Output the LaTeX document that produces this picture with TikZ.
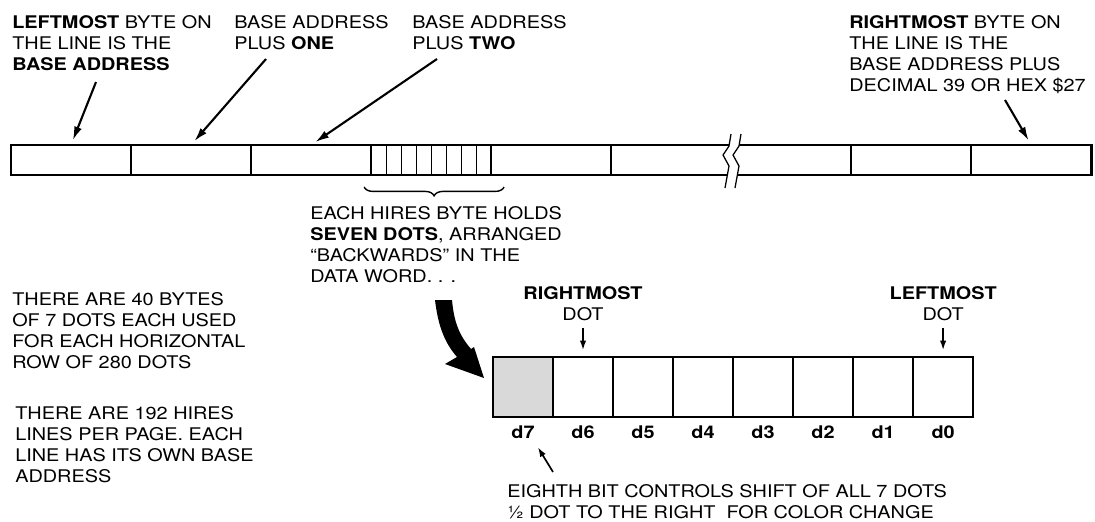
\documentclass[tikz,border=0pt]{standalone}
\usepackage{fontspec}
\setmainfont{TeX Gyre Heros}[FakeStretch=1.14]
\usepackage{tikz}
\usetikzlibrary{arrows.meta, positioning, calc, decorations.pathreplacing}
\tikzset{
  note/.style={align=left, inner sep=0pt, anchor=north west,
               font=\fontsize{12.4}{14.9}\selectfont},
  dotnote/.style={note, align=center, anchor=south},
  bytecell/.style={draw, line width=1.7pt, minimum width=3cm, minimum height=0.75cm,
                   inner sep=0pt, outer sep=0pt},
  bitcell/.style={draw, line width=1.5pt, minimum width=1.5cm, minimum height=1.5cm,
                  inner sep=0pt, outer sep=0pt},
  bitlabel/.style={font=\fontsize{12.4}{14.9}\selectfont\bfseries, inner sep=0pt,
                   label distance=0.22cm},
  pointer/.style={-{Latex[length=0.34cm, width=0.2cm]}, line width=1.5pt, shorten >=0.13cm},
  dotpointer/.style={-{Latex[length=0.24cm, width=0.16cm]}, line width=1.2pt}
}

\begin{document}
\begin{tikzpicture}[x=0.025cm, y=-0.025cm]
\useasboundingbox (0,0) rectangle (1095,521);

% Line of 40 bytes
\node[bytecell] (byte0) at (71,160) {};
\foreach \i [remember=\i as \p (initially 0)] in {1,...,8}
  \node[bytecell, right=0pt of byte\p] (byte\i) {};
\draw[line width=2.1pt] (byte0.north west) rectangle (byte8.south east);
\foreach \k in {1,...,7}
  \draw[line width=0.8pt] ($(byte3.north west)+(15*\k,0)$) -- ($(byte3.south west)+(15*\k,0)$);

% Break in the line
\fill[white] (731,134) -- (729,146) -- (723,155) -- (729,166) -- (725,188)
  -- (735,188) -- (739,166) -- (733,155) -- (739,146) -- (741,134) -- cycle;
\draw[line width=0.9pt] (731,134) -- (729,146) -- (723,155) -- (729,166) -- (725,188);
\draw[line width=0.9pt] (741,134) -- (739,146) -- (733,155) -- (739,166) -- (735,188);

% Brace under the hires byte
\draw[decorate, decoration={brace, mirror, amplitude=0.22cm}, line width=1pt]
  ($(byte3.south west)+(-7,12)$) -- ($(byte3.south east)+(13,12)$);

% Top notes
\node[note] (leftnote) at (12,15) {\textbf{LEFTMOST} BYTE ON\\THE LINE IS THE\\\textbf{BASE ADDRESS}};
\node[note] (onenote) at (234,15) {BASE ADDRESS\\PLUS \textbf{ONE}};
\node[note] (twonote) at (412,15) {BASE ADDRESS\\PLUS \textbf{TWO}};
\node[note] (rightnote) at (849,15) {\textbf{RIGHTMOST} BYTE ON\\THE LINE IS THE\\BASE ADDRESS PLUS\\DECIMAL 39 OR HEX \$27};

\coordinate (leftfoot) at (96,82);
\coordinate (onefoot) at (266,59);
\coordinate (twofoot) at (437,59);
\coordinate (rightfoot) at (1005,100);
\draw[pointer] (leftfoot) -- (byte0.north);
\draw[pointer] (onefoot) -- (byte1.north);
\draw[pointer] (twofoot) -- (byte2.north);
\draw[pointer] (rightfoot) -- (byte8.north);

% Notes below the line
\node[note] (dotsnote) at (310,206) {EACH HIRES BYTE HOLDS\\\textbf{SEVEN DOTS}, ARRANGED\\“BACKWARDS” IN THE\\DATA WORD. . .};
\node[note] (rownote) at (12,292) {THERE ARE 40 BYTES\\OF 7 DOTS EACH USED\\FOR EACH HORIZONTAL\\ROW OF 280 DOTS};
\node[note] (pagenote) at (15,406) {THERE ARE 192 HIRES\\LINES PER PAGE. EACH\\LINE HAS ITS OWN BASE\\ADDRESS};

% Fat arrow down to the data word
\fill (435,300) .. controls (438,325) and (444,342) .. (457,357) -- (445,364) -- (484,378)
  -- (474,347) -- (471,349) .. controls (459,335) and (454,322) .. (452,300) -- cycle;

% Data word d7..d0
\node[bitcell, fill=gray!30, label={[bitlabel, name=lab7]below:d7}] (bit7) at (523,387) {};
\foreach \d [remember=\d as \p (initially 7)] in {6,...,0}
  \node[bitcell, right=0pt of bit\p, label={[bitlabel]below:d\d}] (bit\d) {};
\draw[line width=1.7pt] (bit7.north west) rectangle (bit0.south east);

\node[dotnote, above=0.9cm of bit6] (rightdot) {\textbf{RIGHTMOST}\\DOT};
\node[dotnote, above=0.9cm of bit0] (leftdot) {\textbf{LEFTMOST}\\DOT};
\draw[dotpointer, shorten <=0.17cm, shorten >=0.17cm] (rightdot.south) -- (bit6.north);
\draw[dotpointer, shorten <=0.17cm, shorten >=0.17cm] (leftdot.south) -- (bit0.north);

% Eighth bit
\node[note] (eighthnote) at (507,484) {EIGHTH BIT CONTROLS SHIFT OF ALL 7 DOTS\\½ DOT TO THE RIGHT\ \ FOR COLOR CHANGE};
\coordinate (eighthfoot) at (553,472);
\draw[dotpointer] (eighthfoot) -- ([shift={(3,8)}]lab7.south east);

\end{tikzpicture}
\end{document}
